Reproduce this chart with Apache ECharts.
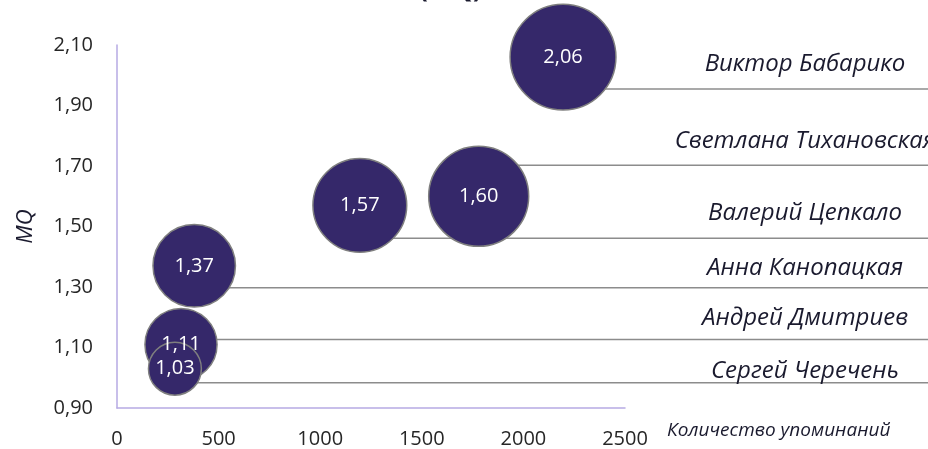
<!DOCTYPE html>
<html>
<head>
<meta charset="utf-8">
<script src="https://cdn.jsdelivr.net/npm/echarts@6/dist/echarts.min.js"></script>
<style>
html,body{margin:0;padding:0;background:#fff;}
#chart{width:928px;height:449px;}
</style>
</head>
<body>
<div id="chart"></div>
<script>
// ---- data ----
const names = ['Виктор Бабарико', 'Светлана Тихановская', 'Валерий Цепкало', 'Анна Канопацкая', 'Андрей Дмитриев', 'Сергей Черечень'];
const mentions = [2195, 1780, 1195, 380, 315, 285];
const mq = [2.06, 1.60, 1.57, 1.37, 1.11, 1.03];
const bubbleSize = [28, 25, 22, 17, 13, 7];
const yTicks = [0.9, 1.1, 1.3, 1.5, 1.7, 1.9, 2.1];
const xTicks = [0, 500, 1000, 1500, 2000, 2500];

// ---- layout (pixels) for leader lines / name labels ----
const leaderDy = [32, -31, 33, 22, -5, 14];
const labelRise = [25, 24, 25, 20, 21, 12];
const labelFromRight = 123;

const fmt = v => v.toFixed(2).replace('.', ',');
const FONT = '"Open Sans", sans-serif';
const axisColor = '#B6AAE3';

const scatterData = names.map((n, i) => [mentions[i], mq[i], bubbleSize[i], i]);

const chart = echarts.init(document.getElementById('chart'));
chart.setOption({
  backgroundColor: '#fff',
  animation: false,
  title: {
    text: '(MQ)',
    left: 414,
    top: -28,
    textStyle: {fontFamily: FONT, fontSize: 26, fontWeight: 'bold', color: '#1a1a2e'}
  },
  grid: {left: 117, right: 303, top: 45, bottom: 41},
  xAxis: {
    type: 'value', min: xTicks[0], max: xTicks[xTicks.length - 1], interval: 500,
    axisLine: {show: true, lineStyle: {color: axisColor, width: 1.5}},
    axisTick: {show: false},
    splitLine: {show: false},
    axisLabel: {formatter: v => String(v), fontFamily: FONT, fontSize: 20, color: '#262626', margin: 21},
    name: 'Количество упоминаний',
    nameLocation: 'end',
    nameGap: 42,
    nameTextStyle: {fontFamily: FONT, fontSize: 19, fontStyle: 'italic', color: '#1a1a2e', align: 'left', verticalAlign: 'top', padding: [13, 0, 0, 0]}
  },
  yAxis: {
    type: 'value', min: yTicks[0], max: yTicks[yTicks.length - 1],
    axisLine: {show: true, lineStyle: {color: axisColor, width: 1.5}},
    axisTick: {show: false, customValues: yTicks},
    splitLine: {show: false},
    axisLabel: {customValues: yTicks, formatter: fmt, fontFamily: FONT, fontSize: 20, color: '#262626', margin: 24},
    name: 'MQ',
    nameLocation: 'middle',
    nameRotate: 90,
    nameGap: 80,
    nameTextStyle: {fontFamily: FONT, fontSize: 22, fontStyle: 'italic', color: '#1a1a2e'}
  },
  series: [
    {
      type: 'custom',
      z: 1,
      clip: false,
      data: scatterData,
      renderItem: function (params, api) {
        const i = api.value(3);
        const p = api.coord([api.value(0), api.value(1)]);
        const W = api.getWidth();
        const ly = p[1] + leaderDy[i];
        return {
          type: 'group',
          children: [
            {type: 'line', shape: {x1: p[0], y1: ly, x2: W, y2: ly}, style: {stroke: '#8C8C8C', lineWidth: 1.5}},
            {type: 'text', style: {text: names[i], x: W - labelFromRight, y: ly - labelRise[i], align: 'center', verticalAlign: 'middle', fontFamily: FONT, fontSize: 24, fontStyle: 'italic', fill: '#1a1a2e'}}
          ]
        };
      }
    },
    {
      type: 'scatter',
      z: 3,
      data: scatterData,
      symbolSize: v => 20 * Math.sqrt(v[2]),
      itemStyle: {color: '#35286A', borderColor: '#7F7F7F', borderWidth: 1.5, opacity: 1},
      label: {show: true, position: 'inside', formatter: p => fmt(p.value[1]), fontFamily: FONT, fontSize: 20, color: '#fff'},
      emphasis: {disabled: true}
    }
  ]
});
</script>
</body>
</html>
